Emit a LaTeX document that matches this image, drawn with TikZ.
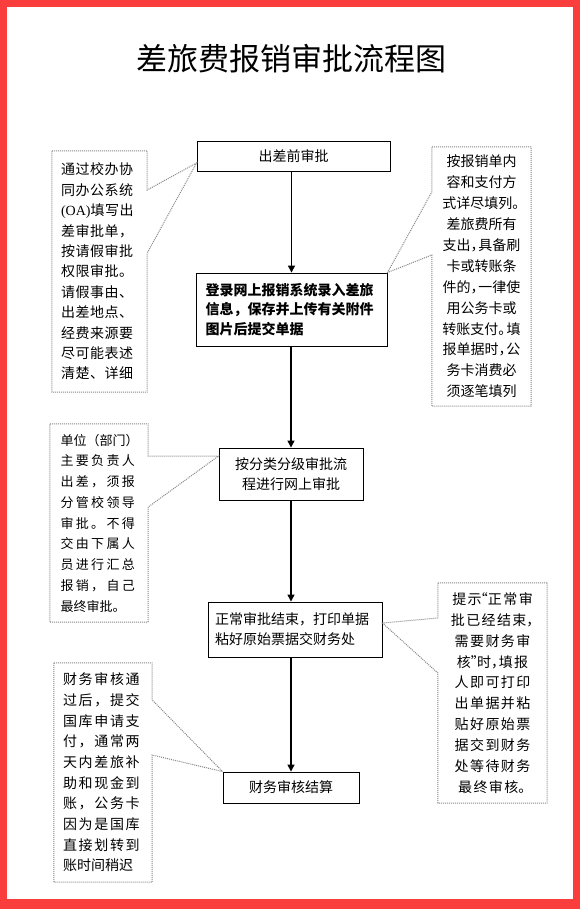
\documentclass[tikz,border=0pt]{standalone}
\usepackage{fontspec}
\usetikzlibrary{arrows.meta}
\newfontfamily\cjk{Noto Sans CJK SC}
\newfontfamily\serif{Liberation Serif}
\definecolor{frame}{RGB}{250,62,62}
\definecolor{cgray}{RGB}{135,135,135}
\newcommand\hc{\makebox[0.55em][l]{，}}
\newcommand\hp{\makebox[0.6em][l]{。}}
\newcommand\myLq{\makebox[0.45em][r]{“}}
\newcommand\myRq{\makebox[0.45em][l]{”}}
\tikzset{
  box/.style={draw=black, line width=0.9pt, fill=white, inner sep=0pt,
    font=\cjk\fontsize{14}{20}\selectfont},
  arr/.style={line width=1.3pt, -{Triangle[length=7pt,width=7pt]}},
  callout/.style={draw=cgray, line width=1pt, densely dotted},
  ctext/.style={inner sep=0pt, draw=none},
}
\begin{document}
\begin{tikzpicture}[x=1pt,y=-1pt]
\useasboundingbox (0,0) rectangle (580,909);
\fill[frame] (0,0) rectangle (580,909);
\fill[white] (7,7) rectangle (573,899);

\node[inner sep=0pt, font=\cjk\fontsize{31}{36}\selectfont] (title) at (291,59) {差旅费报销审批流程图};

% main boxes
\node[box, minimum width=193pt, minimum height=30pt] (b1) at (293.5,156) {出差前审批};
\node[box, minimum width=191pt, minimum height=73pt, text width=172pt, align=left,
  font=\cjk\bfseries\fontsize{14}{19.5}\selectfont] (b2) at (291.5,309.5)
  {登录网上报销系统录入差旅\\信息，保存并上传有关附件\\图片后提交单据};
\node[box, minimum width=144pt, minimum height=52pt, text width=130pt, align=center] (b3) at (291,474)
  {按分类分级审批流\\程进行网上审批};
\node[box, minimum width=174pt, minimum height=55pt, text width=160pt, align=left] (b4) at (295,629.5)
  {正常审批结束，打印单据\\粘好原始票据交财务处};
\node[box, minimum width=136pt, minimum height=31pt] (b5) at (291,787.5) {财务审核结算};

% arrows
\draw[arr] (b2.north |- b1.south) -- (b2.north);
\draw[arr] (b3.north |- b2.south) -- (b3.north);
\draw[arr] (b3.south) -- (b3.south |- b4.north);
\draw[arr] (b5.north |- b4.south) -- (b5.north);

% callout texts
\node[ctext, minimum width=95pt, minimum height=241pt, text width=77pt, align=left,
  font=\cjk\fontsize{14}{20.4}\selectfont\addfontfeature{LetterSpace=4}] (c1) at (99.5,271.5)
  {通过校办协\\同办公系统\\{\serif (OA)}填写出\\差审批单，\\按请假审批\\权限审批。\\请假事由、\\出差地点、\\经费来源要\\尽可能表述\\清楚、详细};
\node[ctext, minimum width=99pt, minimum height=259pt, text width=95pt, align=center,
  font=\cjk\fontsize{14}{20.9}\selectfont] (c2) at (481.5,276.5)
  {按报销单内\\容和支付方\\式详尽填列\hp\\差旅费所有\\支出\hc 具备刷\\卡或转账条\\件的\hc 一律使\\用公务卡或\\转账支付\hp 填\\报单据时\hc 公\\务卡消费必\\须逐笔填列};
\node[ctext, minimum width=98pt, minimum height=198pt, text width=77pt, align=left,
  font=\cjk\fontsize{13}{20.75}\selectfont\addfontfeature{LetterSpace=18}] (c3) at (99,523)
  {{\cjk 单位（部门）}\\主要负责人\\出差，须报\\分管校领导\\审批。不得\\交由下属人\\员进行汇总\\报销，自己\\{\cjk 最终审批。}};
\node[ctext, minimum width=109pt, minimum height=220pt, text width=105pt, align=center,
  font=\cjk\fontsize{14}{20.9}\selectfont\addfontfeature{LetterSpace=10}] (c4) at (492.5,693)
  {提示\myLq 正常审\\批已经结束\hc\\需要财务审\\核\myRq 时\hc 填报\\人即可打印\\出单据并粘\\贴好原始票\\据交到财务\\处等待财务\\最终审核\hp};
\node[ctext, minimum width=98pt, minimum height=219pt, text width=80pt, align=left,
  font=\cjk\fontsize{14}{20.7}\selectfont\addfontfeature{LetterSpace=12}] (c5) at (103,772.5)
  {财务审核通\\过后，提交\\国库申请支\\付，通常两\\天内差旅补\\助和现金到\\账，公务卡\\因为是国库\\直接划转到\\{\cjk 账时间稍迟}};

% pointer tips
\coordinate (t1) at (b1.west |- 0,163);
\coordinate (t2) at (b2.north east);
\coordinate (t3) at (b3.west |- 0,456);
\coordinate (t4) at (b4.east |- 0,623);
\coordinate (t5) at (b5.north west);

% callout outlines
\draw[callout] (c1.north west) -- (c1.north east) -- (c1.east |- 0,190) -- (t1)
  -- (c1.east |- 0,253) -- (c1.south east) -- (c1.south west) -- cycle;
\draw[callout] (c2.north east) -- (c2.north west) -- (c2.west |- 0,192) -- (t2)
  -- (c2.west |- 0,255) -- (c2.south west) -- (c2.south east) -- cycle;
\draw[callout] (c3.north west) -- (c3.north east) -- (c3.east |- 0,456) -- (t3)
  -- (c3.east |- 0,507) -- (c3.south east) -- (c3.south west) -- cycle;
\draw[callout] (c4.north east) -- (c4.north west) -- (c4.west |- 0,618) -- (t4)
  -- (c4.west |- 0,673) -- (c4.south west) -- (c4.south east) -- cycle;
\draw[callout] (c5.north west) -- (c5.north east) -- (c5.east |- 0,700) -- (t5)
  -- (c5.east |- 0,755) -- (c5.south east) -- (c5.south west) -- cycle;
\end{tikzpicture}
\end{document}
